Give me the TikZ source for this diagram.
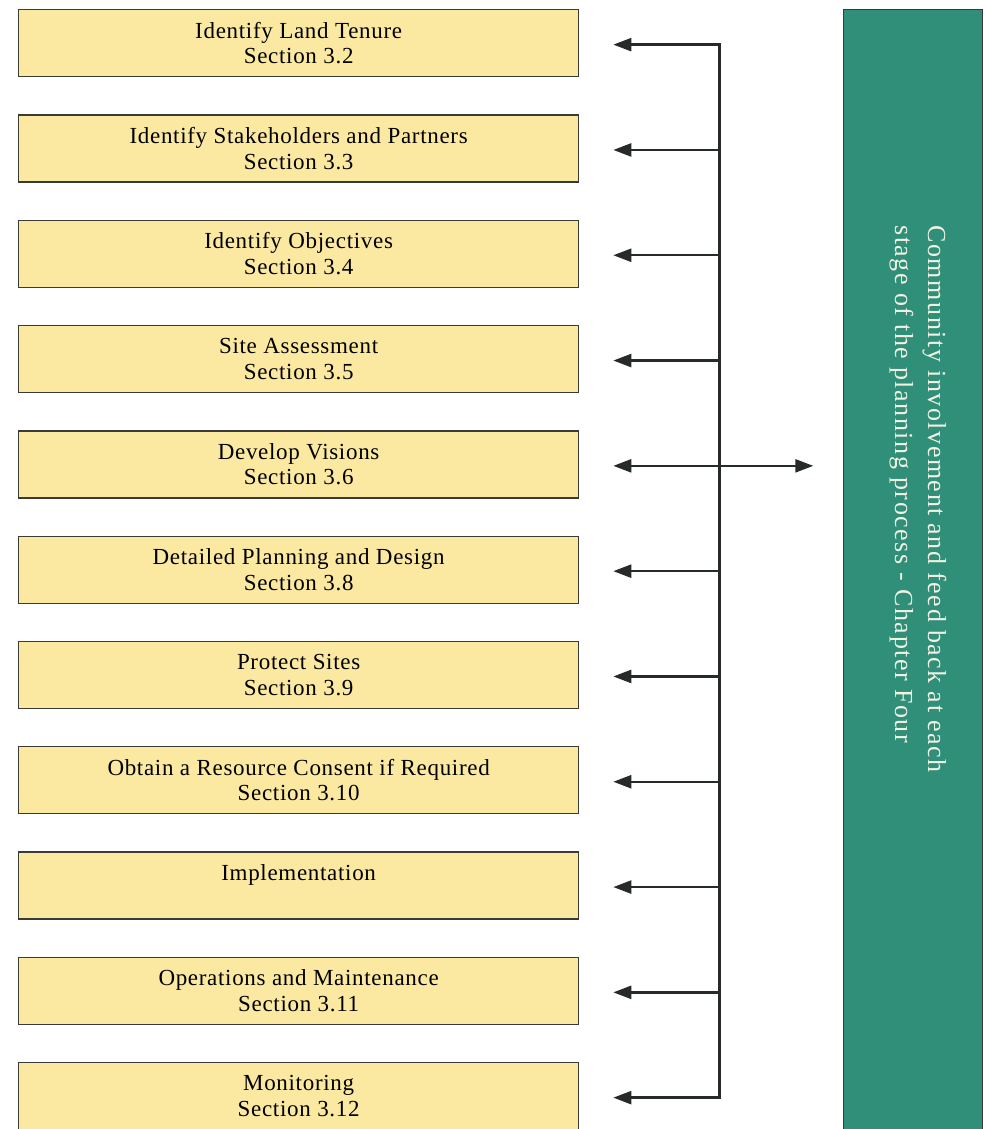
\documentclass[tikz,border=0pt]{standalone}
\usepackage{fontspec}
\setmainfont{Liberation Serif}
\usetikzlibrary{arrows.meta,calc}
\definecolor{boxfill}{HTML}{FBE9A2}
\definecolor{boxline}{HTML}{3A3A36}
\definecolor{teal}{HTML}{2F8F78}
\definecolor{lightt}{HTML}{F2F1E4}
\definecolor{arrc}{HTML}{262A28}
\tikzset{
  stepbox/.style={draw=boxline,line width=1.3pt,fill=boxfill,minimum width=560pt,minimum height=67pt,anchor=north west,inner sep=0pt,align=center,font=\fontsize{23}{25.5}\selectfont\addfontfeature{LetterSpace=3}},
  arr/.style={draw=arrc,line width=2.4pt,-{Triangle[length=18pt,width=13pt]}},
  spine/.style={draw=arrc,line width=2.4pt}
}
\begin{document}
\begin{tikzpicture}[x=1pt,y=-1pt]
\useasboundingbox (0,0) rectangle (985,1129);
\node[stepbox] (b0) at (18,9) {Identify Land Tenure\\Section 3.2};
\node[stepbox] (b1) at (18,114.3) {Identify Stakeholders and Partners\\Section 3.3};
\node[stepbox] (b2) at (18,219.6) {Identify Objectives\\Section 3.4};
\node[stepbox] (b3) at (18,324.9) {Site Assessment\\Section 3.5};
\node[stepbox] (b4) at (18,430.2) {Develop Visions\\Section 3.6};
\node[stepbox] (b5) at (18,535.5) {Detailed Planning and Design\\Section 3.8};
\node[stepbox] (b6) at (18,640.8) {Protect Sites\\Section 3.9};
\node[stepbox] (b7) at (18,746.1) {Obtain a Resource Consent if Required\\Section 3.10};
\node[stepbox] (b8) at (18,851.4) {Implementation\\\mbox{}};
\node[stepbox] (b9) at (18,956.7) {Operations and Maintenance\\Section 3.11};
\node[stepbox] (b10) at (18,1062) {Monitoring\\Section 3.12};
\node[draw=boxline,line width=1pt,fill=teal,anchor=north west,minimum width=139pt,minimum height=1122pt,inner sep=0pt] (g) at (843,9) {};
\node[rotate=-90,text=lightt,align=left,font=\fontsize{26}{33}\selectfont\addfontfeature{LetterSpace=6}] (gt) at (918,499) {Community involvement and feed back at each\\stage of the planning process - Chapter Four};
\foreach \i in {0,...,10}{
  \coordinate (t\i) at ($(b\i.east)+(34,1.5)$);
  \coordinate (s\i) at ($(b\i.east)+(140,1.5)$);
  \draw[arr] (s\i) -- (t\i);
}
\coordinate (r4) at ($(b4.east)+(234,1.5)$);
\draw[arr] (s4) -- (r4);
\draw[spine] ($(s0)+(0,-1.2)$) -- ($(s10)+(0,1.2)$);
\end{tikzpicture}
\end{document}
